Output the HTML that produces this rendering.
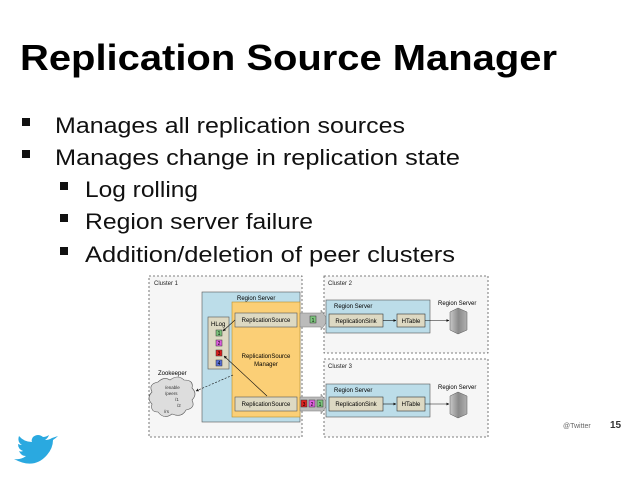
<!DOCTYPE html>
<html><head><meta charset="utf-8"><style>
html,body{margin:0;padding:0;background:#fff}
svg{display:block}
</style></head><body>
<svg width="638" height="479" viewBox="0 0 638 479" xmlns="http://www.w3.org/2000/svg" font-family="Liberation Sans, sans-serif">
<defs>
<marker id="ah" viewBox="0 0 10 10" refX="9" refY="5" markerWidth="5" markerHeight="5" orient="auto"><path d="M0,0 L10,5 L0,10 z" fill="#111"/></marker>
<linearGradient id="sv" x1="0" x2="1"><stop offset="0" stop-color="#c8c8c8"/><stop offset="0.5" stop-color="#8a8a8a"/><stop offset="1" stop-color="#b0b0b0"/></linearGradient>
</defs>
<text x="20" y="70" font-size="36" font-weight="bold" textLength="537" lengthAdjust="spacingAndGlyphs">Replication Source Manager</text>
<g font-size="22" fill="#111">
<rect x="22" y="118" width="8" height="8"/><text x="55" y="133" textLength="350" lengthAdjust="spacingAndGlyphs">Manages all replication sources</text>
<rect x="22" y="150" width="8" height="8"/><text x="55" y="165" textLength="405" lengthAdjust="spacingAndGlyphs">Manages change in replication state</text>
<rect x="60" y="182" width="8" height="8"/><text x="85" y="197" textLength="113" lengthAdjust="spacingAndGlyphs">Log rolling</text>
<rect x="60" y="214" width="8" height="8"/><text x="85" y="229" textLength="228" lengthAdjust="spacingAndGlyphs">Region server failure</text>
<rect x="60" y="247" width="8" height="8"/><text x="85" y="262" textLength="370" lengthAdjust="spacingAndGlyphs">Addition/deletion of peer clusters</text>
</g>
<!-- clusters -->
<g fill="#f6f6f6" stroke="#555" stroke-dasharray="2,2" stroke-width="0.8">
<rect x="149" y="276" width="153" height="161"/>
<rect x="324" y="276" width="164" height="77"/>
<rect x="324" y="359" width="164" height="78"/>
</g>
<g font-size="6" fill="#222">
<text x="154" y="285">Cluster 1</text>
<text x="328" y="285">Cluster 2</text>
<text x="328" y="368">Cluster 3</text>
</g>
<!-- region server c1 -->
<rect x="202" y="292" width="98" height="130" fill="#bcdde9" stroke="#555" stroke-width="0.6"/>
<text x="237" y="300" font-size="6">Region Server</text>
<rect x="232" y="302" width="68" height="115" fill="#fbcf76" stroke="#b89030" stroke-width="0.6"/>
<text x="266" y="358" font-size="6" text-anchor="middle">ReplicationSource</text>
<text x="266" y="366" font-size="6" text-anchor="middle">Manager</text>
<rect x="235" y="313" width="62" height="14" fill="#ddd9c3" stroke="#555" stroke-width="0.6"/>
<text x="266" y="322" font-size="6" text-anchor="middle">ReplicationSource</text>
<rect x="235" y="397" width="62" height="14" fill="#ddd9c3" stroke="#555" stroke-width="0.6"/>
<text x="266" y="406" font-size="6" text-anchor="middle">ReplicationSource</text>
<!-- hlog -->
<rect x="208" y="317" width="21" height="52" fill="#ddd9c3" stroke="#555" stroke-width="0.6"/>
<text x="211" y="326" font-size="6">HLog</text>
<rect x="216" y="330" width="6" height="6" fill="#7cc47c" stroke="#333" stroke-width="0.5"/>
<rect x="216" y="340" width="6" height="6" fill="#e060e0" stroke="#333" stroke-width="0.5"/>
<rect x="216" y="350" width="6" height="6" fill="#e02020" stroke="#333" stroke-width="0.5"/>
<rect x="216" y="360" width="6" height="6" fill="#5870d8" stroke="#333" stroke-width="0.5"/>
<g font-size="5" text-anchor="middle"><text x="219" y="335">1</text><text x="219" y="345">2</text><text x="219" y="355">3</text><text x="219" y="365">4</text></g>
<!-- zookeeper -->
<text x="158" y="375" font-size="6">Zookeeper</text>
<path d="M158,382 q6,-6 12,-2 q8,-6 14,0 q10,0 8,8 q6,6 0,12 q4,8 -6,10 q-4,8 -14,4 q-8,6 -14,-2 q-8,0 -6,-8 q-6,-6 0,-12 q-4,-8 6,-10z" fill="#ddd" stroke="#555" stroke-width="0.6"/>
<g font-size="4.5" fill="#333"><text x="165" y="389">/enable</text><text x="165" y="395">/peers</text><text x="175" y="401">/1</text><text x="177" y="407">/2</text><text x="164" y="413">/rs</text></g>
<!-- arrows in c1 -->
<line x1="233" y1="375" x2="196" y2="391" stroke="#111" stroke-width="0.6" stroke-dasharray="2,1.5" marker-end="url(#ah)"/>
<line x1="267" y1="396" x2="224" y2="356" stroke="#111" stroke-width="0.6" marker-end="url(#ah)"/>
<line x1="235" y1="320" x2="223" y2="331" stroke="#111" stroke-width="0.6" marker-end="url(#ah)"/>
<!-- gray arrows -->
<path d="M300,313 H321 V310 L328,320 L321,330 V327 H300 z" fill="#bbb" stroke="#777" stroke-width="0.5"/>
<path d="M300,397 H321 V394 L328,404 L321,414 V411 H300 z" fill="#bbb" stroke="#777" stroke-width="0.5"/>
<rect x="310" y="316" width="6" height="7" fill="#7cc47c" stroke="#333" stroke-width="0.5"/>
<rect x="301" y="400" width="6" height="7" fill="#e02020" stroke="#333" stroke-width="0.5"/>
<rect x="309" y="400" width="6" height="7" fill="#e060e0" stroke="#333" stroke-width="0.5"/>
<rect x="317" y="400" width="6" height="7" fill="#7cc47c" stroke="#333" stroke-width="0.5"/>
<g font-size="5" text-anchor="middle"><text x="313" y="322">1</text><text x="304" y="406">3</text><text x="312" y="406">2</text><text x="320" y="406">1</text></g>
<!-- cluster 2 -->
<rect x="326" y="300" width="104" height="33" fill="#bcdde9" stroke="#555" stroke-width="0.6"/>
<text x="334" y="308" font-size="6">Region Server</text>
<rect x="329" y="314" width="54" height="13" fill="#ddd9c3" stroke="#333" stroke-width="0.6"/>
<text x="356" y="323" font-size="6" text-anchor="middle">ReplicationSink</text>
<rect x="397" y="314" width="28" height="13" fill="#ddd9c3" stroke="#333" stroke-width="0.6"/>
<text x="411" y="323" font-size="6" text-anchor="middle">HTable</text>
<line x1="383" y1="320.5" x2="396" y2="320.5" stroke="#111" stroke-width="0.6" marker-end="url(#ah)"/>
<line x1="425" y1="320.5" x2="449" y2="320.5" stroke="#111" stroke-width="0.6" marker-end="url(#ah)"/>
<text x="438" y="305" font-size="6">Region Server</text>
<path d="M450,312 L458,308 L467,312 V330 L458,334 L450,330 z" fill="url(#sv)" stroke="#555" stroke-width="0.5"/>
<!-- cluster 3 -->
<rect x="326" y="384" width="104" height="33" fill="#bcdde9" stroke="#555" stroke-width="0.6"/>
<text x="334" y="392" font-size="6">Region Server</text>
<rect x="329" y="397" width="54" height="14" fill="#ddd9c3" stroke="#333" stroke-width="0.6"/>
<text x="356" y="406" font-size="6" text-anchor="middle">ReplicationSink</text>
<rect x="397" y="397" width="28" height="14" fill="#ddd9c3" stroke="#333" stroke-width="0.6"/>
<text x="411" y="406" font-size="6" text-anchor="middle">HTable</text>
<line x1="383" y1="404" x2="396" y2="404" stroke="#111" stroke-width="0.6" marker-end="url(#ah)"/>
<line x1="425" y1="404" x2="449" y2="404" stroke="#111" stroke-width="0.6" marker-end="url(#ah)"/>
<text x="438" y="389" font-size="6">Region Server</text>
<path d="M450,396 L458,392 L467,396 V414 L458,418 L450,414 z" fill="url(#sv)" stroke="#555" stroke-width="0.5"/>
<!-- footer -->
<path d="M52,438 q-3,2 -7,2 q3,-2 4,-5 q-3,2 -6,2 q-5,-4 -10,0 q-2,3 -1,5 q-8,0 -13,-6 q-2,6 3,9 q-2,0 -4,-1 q0,5 5,7 q-2,1 -4,0 q2,5 7,5 q-5,4 -12,3 q20,11 33,-4 q6,-7 6,-15 q3,-2 5,-4z" fill="#2aa9e0"/>
<text x="563" y="428" font-size="7" fill="#666">@Twitter</text>
<text x="610" y="428" font-size="10" fill="#333" font-weight="bold">15</text>
</svg>
</body></html>
